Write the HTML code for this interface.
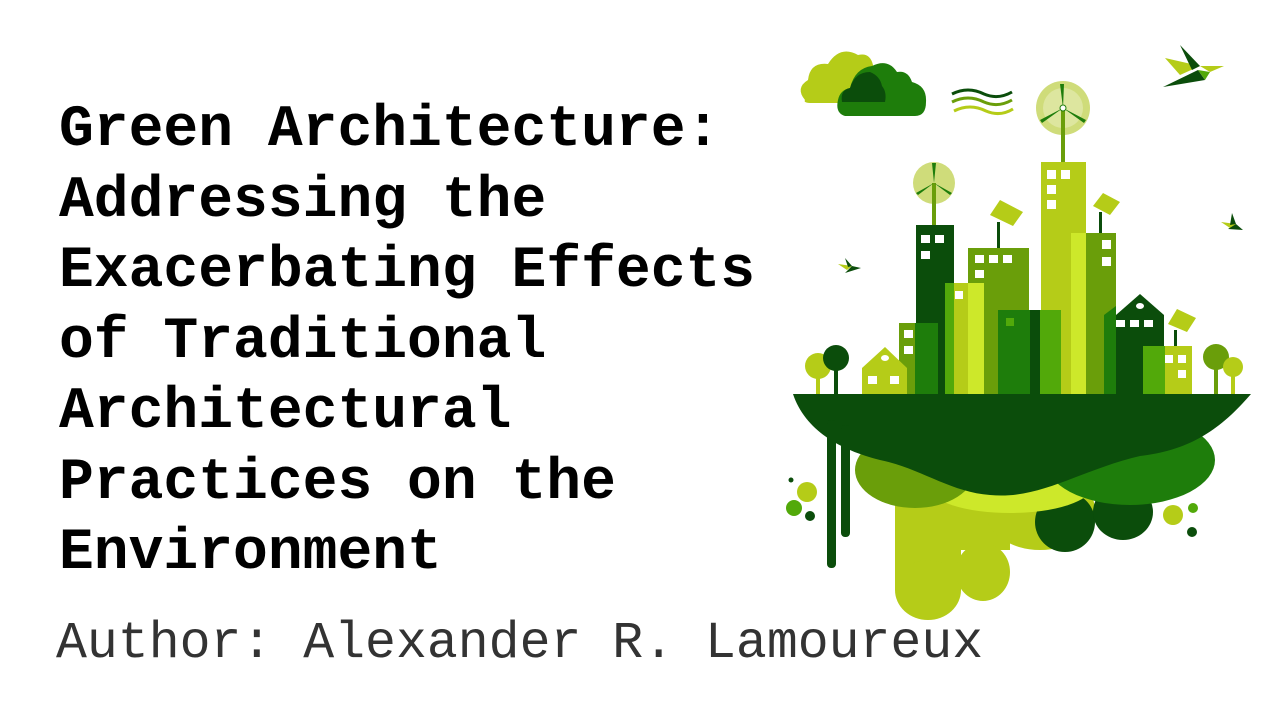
<!DOCTYPE html>
<html><head><meta charset="utf-8"><style>
html,body{margin:0;padding:0;background:#fff;}
body{width:1280px;height:720px;position:relative;overflow:hidden;}
.t{position:absolute;left:59px;top:96px;font-family:"Liberation Mono",monospace;font-weight:bold;font-size:58px;line-height:70.5px;color:#000;white-space:pre;}
.a{position:absolute;left:56px;top:614px;font-family:"Liberation Mono",monospace;font-size:51.5px;line-height:60px;color:#333;white-space:pre;}
svg{position:absolute;left:0;top:0;}
</style></head><body>
<svg width="1280" height="720" viewBox="0 0 1280 720">
<path d="M805 100 Q795 88 808 80 Q810 62 828 64 Q840 45 858 55 Q870 52 873 65 L873 103 H812 Q803 103 805 100Z" fill="#b5cc18"/>
<path d="M845 116 Q835 113 838 100 Q840 90 850 88 Q855 68 872 66 Q888 58 897 72 Q908 70 912 82 Q927 86 926 102 Q926 116 915 116Z" fill="#1e7d0b"/>
<path d="M842 102 Q840 90 850 88 Q855 72 870 72 Q880 76 882 86 Q887 92 885 102Z" fill="#0b4d0b"/>
<path d="M952 94 Q968 86 984 94 Q998 100 1012 92" stroke="#0b4d0b" stroke-width="3" fill="none"/>
<path d="M952 102 Q968 94 984 102 Q998 108 1012 100" stroke="#6a9e0a" stroke-width="3" fill="none"/>
<path d="M954 111 Q970 103 986 111 Q1000 117 1013 109" stroke="#b5cc18" stroke-width="3" fill="none"/>
<circle cx="1063" cy="108" r="27" fill="#cfdc7a"/>
<circle cx="1063" cy="108" r="20" fill="#e6ecb8" opacity=".6"/>
<rect x="1061" y="108" width="4" height="56" fill="#6a9e0a"/>
<path d="M1063 108 L1060 84 L1064 84Z M1063 108 L1040 120 L1042 123Z M1063 108 L1086 120 L1084 123Z" fill="#1e7d0b"/>
<circle cx="1063" cy="108" r="3" fill="#fff" stroke="#1e7d0b"/>
<circle cx="934" cy="183" r="21" fill="#cfdc7a"/>
<rect x="932" y="183" width="4" height="43" fill="#6a9e0a"/>
<path d="M934 183 L932 163 L936 163Z M934 183 L916 193 L918 195Z M934 183 L952 193 L950 195Z" fill="#1e7d0b"/>
<g fill="#b5cc18"><path d="M990 215 L1000 200 L1023 212 L1013 226Z"/><path d="M1093 206 L1103 193 L1120 202 L1110 215Z"/><path d="M1168 324 L1177 309 L1196 318 L1187 332Z"/></g>
<rect x="997" y="222" width="3" height="26" fill="#0b4d0b"/>
<rect x="1099" y="212" width="3" height="22" fill="#0b4d0b"/>
<rect x="1174" y="330" width="3" height="17" fill="#0b4d0b"/>
<rect x="1041" y="162" width="45" height="232" fill="#b5cc18"/>
<rect x="916" y="225" width="38" height="169" fill="#0b4d0b"/>
<rect x="968" y="248" width="61" height="146" fill="#6a9e0a"/>
<rect x="945" y="283" width="39" height="111" fill="#b5cc18"/>
<rect x="945" y="283" width="9" height="111" fill="#52a90a"/>
<rect x="968" y="283" width="16" height="111" fill="#cde82a"/>
<rect x="998" y="310" width="63" height="84" fill="#1e7d0b"/>
<rect x="1030" y="310" width="10" height="84" fill="#0b4d0b"/>
<rect x="1040" y="310" width="21" height="84" fill="#52a90a"/>
<rect x="1071" y="233" width="15" height="161" fill="#cde82a"/>
<rect x="1086" y="233" width="30" height="161" fill="#6a9e0a"/>
<path d="M1104 315 L1116 306 V394 H1104Z" fill="#1e7d0b"/>
<path d="M1116 315 L1140 294 L1164 315 V394 H1116Z" fill="#0b4d0b"/>
<rect x="1143" y="346" width="22" height="48" fill="#52a90a"/>
<rect x="1165" y="346" width="27" height="48" fill="#b5cc18"/>
<rect x="899" y="323" width="16" height="71" fill="#6a9e0a"/>
<rect x="915" y="323" width="23" height="71" fill="#1e7d0b"/>
<path d="M862 368 L885 347 L907 368 V394 H862Z" fill="#b5cc18"/>
<g fill="#fff">
<rect x="1047" y="170" width="9" height="9"/><rect x="1061" y="170" width="9" height="9"/><rect x="1047" y="185" width="9" height="9"/><rect x="1047" y="200" width="9" height="9"/>
<rect x="921" y="235" width="9" height="8"/><rect x="935" y="235" width="9" height="8"/><rect x="921" y="251" width="9" height="8"/>
<rect x="975" y="255" width="9" height="8"/><rect x="989" y="255" width="9" height="8"/><rect x="1003" y="255" width="9" height="8"/><rect x="975" y="270" width="9" height="8"/>
<rect x="955" y="291" width="8" height="8"/><rect x="1102" y="240" width="9" height="9"/><rect x="1102" y="257" width="9" height="9"/>
<rect x="1116" y="320" width="9" height="7"/><rect x="1130" y="320" width="9" height="7"/><rect x="1144" y="320" width="9" height="7"/>
<rect x="904" y="330" width="9" height="8"/><rect x="904" y="346" width="9" height="8"/>
<rect x="868" y="376" width="9" height="8"/><rect x="890" y="376" width="9" height="8"/>
<rect x="1165" y="355" width="8" height="8"/><rect x="1178" y="355" width="8" height="8"/><rect x="1178" y="370" width="8" height="8"/>
<ellipse cx="1140" cy="306" rx="4" ry="3"/><ellipse cx="885" cy="358" rx="4" ry="3"/>
</g>
<rect x="1006" y="318" width="8" height="8" fill="#52a90a"/>
<circle cx="818" cy="366" r="13" fill="#b5cc18"/>
<rect x="816" y="370" width="4" height="24" fill="#b5cc18"/>
<circle cx="836" cy="358" r="13" fill="#0b4d0b"/>
<rect x="834" y="362" width="4" height="32" fill="#0b4d0b"/>
<circle cx="1216" cy="357" r="13" fill="#6a9e0a"/>
<rect x="1214" y="360" width="4" height="34" fill="#6a9e0a"/>
<circle cx="1233" cy="367" r="10" fill="#b5cc18"/>
<rect x="1231" y="370" width="4" height="24" fill="#b5cc18"/>
<rect x="895" y="440" width="66" height="150" fill="#b5cc18"/>
<ellipse cx="928" cy="590" rx="33" ry="30" fill="#b5cc18"/>
<rect x="955" y="450" width="55" height="100" fill="#b5cc18"/>
<ellipse cx="983" cy="572" rx="27" ry="29" fill="#b5cc18"/>
<ellipse cx="1040" cy="510" rx="55" ry="40" fill="#b5cc18"/>
<ellipse cx="1065" cy="522" rx="30" ry="30" fill="#0b4d0b"/>
<ellipse cx="1123" cy="512" rx="30" ry="28" fill="#0b4d0b"/>
<ellipse cx="1010" cy="486" rx="82" ry="27" fill="#cde82a"/>
<ellipse cx="915" cy="470" rx="60" ry="38" fill="#6a9e0a"/>
<ellipse cx="1130" cy="460" rx="85" ry="45" fill="#1e7d0b"/>
<path d="M793 394 H1251 C1220 430 1190 450 1140 456 C1080 470 1040 500 990 495 C950 492 920 468 880 460 C840 450 805 430 793 394Z" fill="#0b4d0b"/>
<rect x="827" y="420" width="9" height="148" rx="4" fill="#0b4d0b"/>
<rect x="841" y="425" width="9" height="112" rx="4" fill="#0b4d0b"/>
<circle cx="807" cy="492" r="10" fill="#b5cc18"/><circle cx="794" cy="508" r="8" fill="#52a90a"/><circle cx="810" cy="516" r="5" fill="#0b4d0b"/><circle cx="791" cy="480" r="2.5" fill="#0b4d0b"/>
<circle cx="1173" cy="515" r="10" fill="#b5cc18"/><circle cx="1193" cy="508" r="5" fill="#52a90a"/><circle cx="1192" cy="532" r="5" fill="#0b4d0b"/>
<path d="M1165 58 L1200 66 L1180 75Z" fill="#b5cc18"/>
<path d="M1180 45 L1200 66 L1192 70Z" fill="#0b4d0b"/>
<path d="M1200 66 L1224 66 L1210 72Z" fill="#b5cc18"/>
<path d="M1163 87 L1198 70 L1205 80Z" fill="#0b4d0b"/>
<path d="M1198 70 L1210 72 L1205 80Z" fill="#52a90a"/>
<path d="M1221 222 L1236 224 L1230 228Z" fill="#b5cc18"/><path d="M1232 213 L1236 224 L1230 225Z M1228 229 L1236 224 L1243 230Z" fill="#0b4d0b"/>
<path d="M838 264 L852 266 L847 270Z" fill="#b5cc18"/><path d="M845 258 L852 266 L848 267Z M845 273 L852 266 L861 268Z" fill="#0b4d0b"/>
</svg>
<div class="t">Green Architecture:
Addressing the
Exacerbating Effects
of Traditional
Architectural
Practices on the
Environment</div>
<div class="a">Author: Alexander R. Lamoureux</div>
</body></html>
